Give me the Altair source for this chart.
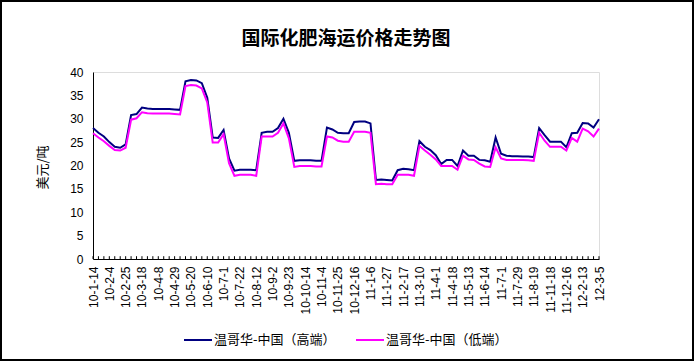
import altair as alt
import pandas as pd

title_text = "国际化肥海运价格走势图"
y_title = "美元/吨"
series_names = ["温哥华-中国（高端）", "温哥华-中国（低端）"]
series_colors = ["#000080", "#FF00FF"]

label_dates = ["10-1-14", "10-2-4", "10-2-25", "10-3-18", "10-4-8", "10-4-29", "10-5-20",
               "10-6-10", "10-7-1", "10-7-22", "10-8-12", "10-9-2", "10-9-23", "10-10-14",
               "10-11-4", "10-11-25", "10-12-16", "11-1-6", "11-1-27", "11-2-17", "11-3-10",
               "11-4-1", "11-4-18", "11-5-13", "11-6-14", "11-7-1", "11-7-29", "11-8-19",
               "11-11-18", "11-12-16", "12-2-13", "12-3-5"]

high = [28.0, 27.0, 26.2, 25.0, 24.0, 23.8, 24.5, 30.8, 31.0, 32.4,
        32.2, 32.1, 32.1, 32.1, 32.1, 32.0, 31.9, 38.0, 38.3, 38.2,
        37.6, 34.5, 26.0, 25.9, 27.6, 21.5, 18.9, 19.1, 19.1, 19.1,
        19.0, 27.0, 27.2, 27.2, 28.0, 30.0, 27.0, 21.0, 21.1, 21.1,
        21.1, 21.0, 21.0, 28.1, 27.7, 27.0, 26.9, 26.9, 29.3, 29.4,
        29.4, 29.0, 16.9, 17.0, 16.9, 16.8, 19.0, 19.3, 19.2, 19.0,
        25.2, 24.0, 23.3, 22.2, 20.3, 21.2, 21.2, 19.9, 23.2, 22.1,
        22.1, 21.2, 21.1, 20.8, 26.0, 22.5, 22.1, 22.0, 22.0, 21.9,
        21.9, 21.8, 28.0, 26.5, 25.1, 25.1, 25.1, 23.9, 26.9, 27.0,
        29.1, 29.0, 28.1, 29.9]

low = [26.9, 26.0, 25.2, 24.2, 23.3, 23.2, 23.8, 29.8, 30.1, 31.4,
       31.2, 31.1, 31.1, 31.1, 31.1, 31.0, 30.9, 37.0, 37.2, 37.1,
       36.5, 33.5, 24.9, 24.9, 26.7, 20.5, 17.8, 18.0, 18.0, 18.0,
       17.8, 26.2, 26.2, 26.2, 27.0, 29.0, 25.8, 19.7, 19.9, 19.9,
       19.9, 19.8, 19.8, 26.2, 26.0, 25.3, 25.1, 25.1, 27.2, 27.2,
       27.2, 27.0, 16.0, 16.1, 16.0, 16.0, 18.0, 18.0, 18.0, 17.8,
       24.2, 23.2, 22.3, 21.3, 19.9, 19.9, 19.9, 19.1, 22.1, 21.3,
       21.2, 20.4, 19.8, 19.7, 23.9, 21.5, 21.2, 21.2, 21.2, 21.2,
       21.1, 21.0, 27.0, 25.3, 24.0, 24.0, 24.0, 23.2, 25.9, 25.1,
       27.9, 27.3, 26.2, 27.9]

n = len(high)
idx = list(range(n))
df = pd.DataFrame({
    "idx": idx + idx,
    "value": high + low,
    "series": [series_names[0]] * n + [series_names[1]] * n,
})
ticks_df = pd.DataFrame({"idx": idx, "value": [0.0] * n, "t1": [0.6] * n})
label_idx = list(range(0, n, 3))
label_expr = "[" + ",".join("'" + s + "'" for s in label_dates) + "][round(datum.value/3)]"

xscale = alt.Scale(domain=[0, n - 1], nice=False, zero=False)
yscale = alt.Scale(domain=[0, 40], nice=False)

x_axis = alt.Axis(values=label_idx, labelExpr=label_expr, labelAngle=270,
                  labelAlign="right", labelBaseline="middle", labelPadding=7,
                  ticks=False, grid=False, domainColor="black", title=None,
                  labelFont="Liberation Sans", labelFontSize=12, labelColor="black",
                  labelOverlap=False, labelFlush=False, labelBound=False)
y_axis = alt.Axis(values=list(range(0, 41, 5)), ticks=False, grid=False,
                  domainColor="black", labelPadding=10, labelFont="Liberation Sans",
                  labelFontSize=12, labelColor="black", labelOverlap=False,
                  labelFlush=False, title=y_title,
                  titleFont="Noto Sans CJK SC", titleFontSize=13, titleFontWeight="normal",
                  titleColor="black", titleX=-51, titleY=95, titleAngle=270,
                  titleAlign="center", titleBaseline="middle")

lines = alt.Chart(df).mark_line(strokeWidth=2).encode(
    x=alt.X("idx:Q", scale=xscale, axis=x_axis),
    y=alt.Y("value:Q", scale=yscale, axis=y_axis),
    color=alt.Color("series:N", scale=alt.Scale(domain=series_names, range=series_colors),
                    legend=alt.Legend(orient="none", legendX=90, legendY=253,
                                      direction="horizontal", title=None,
                                      symbolType="stroke", symbolSize=784,
                                      symbolStrokeWidth=2, labelFont="Noto Sans CJK SC",
                                      labelFontSize=13, labelColor="black",
                                      columnPadding=16, labelOffset=1)),
)

ticks = alt.Chart(ticks_df).mark_rule(color="black", strokeWidth=1).encode(
    x=alt.X("idx:Q", scale=xscale, axis=x_axis),
    y=alt.Y("value:Q", scale=yscale, axis=y_axis),
    y2="t1:Q",
)

title_mark = alt.Chart(pd.DataFrame({"t": [title_text]})).mark_text(
    font="Noto Sans CJK SC", fontSize=19, fontWeight="bold", color="black",
    align="center", baseline="middle"
).encode(text="t:N", x=alt.value(253), y=alt.value(-33))

frame = alt.Chart(pd.DataFrame({"a": [0]})).mark_rect(
    fillOpacity=0, stroke="black", strokeWidth=2
).encode(
    x=alt.value(-92), x2=alt.value(600), y=alt.value(-71), y2=alt.value(288)
)

chart = alt.layer(frame, lines, ticks, title_mark).properties(
    width=506, height=187,
    autosize=alt.AutoSizeParams(type="none"),
    padding={"left": 93, "top": 72, "right": 96, "bottom": 103},
).configure_view(stroke="#808080", strokeWidth=1).configure(background="white")

chart.save("out.html", embed_options={"renderer": "svg", "actions": False})
